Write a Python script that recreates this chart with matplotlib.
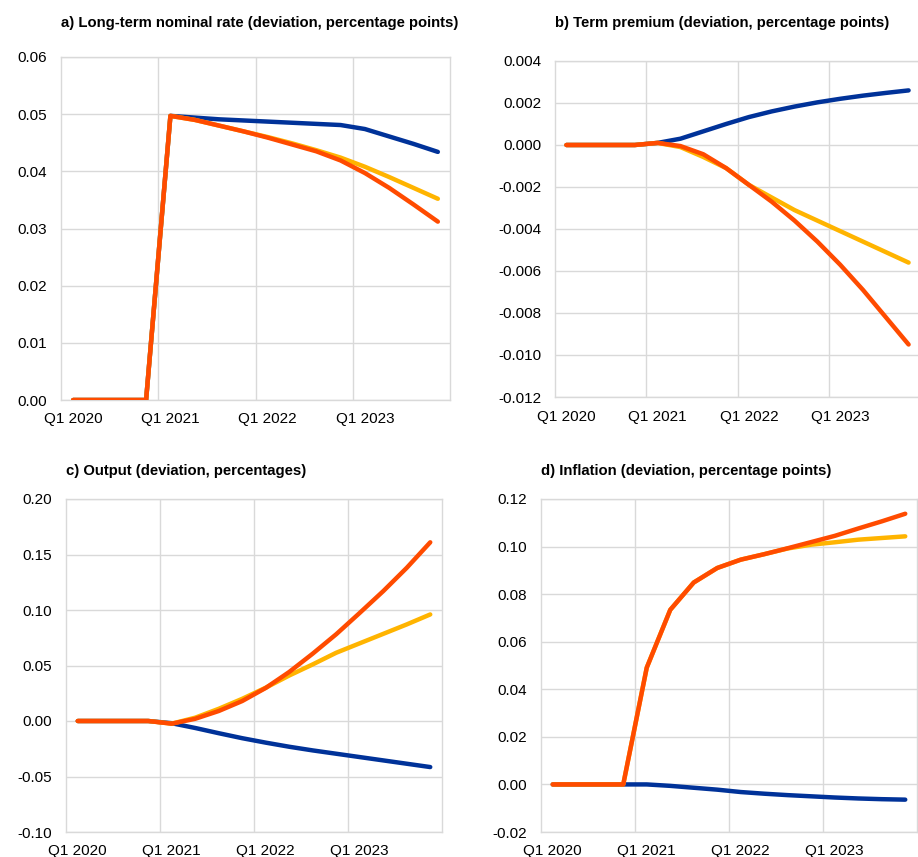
import matplotlib
matplotlib.use('Agg')
import matplotlib.pyplot as plt
from matplotlib.ticker import FixedLocator, FormatStrFormatter

plt.rcParams['font.family'] = ['Liberation Sans', 'DejaVu Sans']
plt.rcParams['axes.unicode_minus'] = False

# quarterly horizon, Q1 2020 - Q4 2023
quarters = ['Q1 2020', 'Q2 2020', 'Q3 2020', 'Q4 2020',
            'Q1 2021', 'Q2 2021', 'Q3 2021', 'Q4 2021',
            'Q1 2022', 'Q2 2022', 'Q3 2022', 'Q4 2022',
            'Q1 2023', 'Q2 2023', 'Q3 2023', 'Q4 2023']

# a) long-term nominal rate
rate_blue   = [0, 0, 0, 0, 0.0497, 0.0494, 0.0491, 0.0489, 0.0487, 0.0485, 0.0483, 0.0481, 0.0474, 0.0461, 0.0448, 0.0434]
rate_yellow = [0, 0, 0, 0, 0.0497, 0.0490, 0.0480, 0.0470, 0.0460, 0.0449, 0.0437, 0.0424, 0.0408, 0.0390, 0.0371, 0.0352]
rate_red    = [0, 0, 0, 0, 0.0497, 0.0490, 0.0480, 0.0470, 0.0459, 0.0447, 0.0435, 0.0419, 0.0397, 0.0371, 0.0342, 0.0312]

# b) term premium
term_blue   = [0, 0, 0, 0, 0.0001, 0.0003, 0.00065, 0.0010, 0.00133, 0.0016, 0.00183, 0.00203, 0.0022, 0.00235, 0.00248, 0.0026]
term_yellow = [0, 0, 0, 0, 0.0001, -0.0001, -0.00057, -0.0011, -0.0019, -0.0025, -0.0031, -0.0036, -0.0041, -0.0046, -0.0051, -0.0056]
term_red    = [0, 0, 0, 0, 0.0001, -0.00005, -0.00044, -0.0011, -0.0019, -0.0027, -0.0036, -0.0046, -0.0057, -0.0069, -0.0082, -0.0095]

# c) output
out_blue   = [0, 0, 0, 0, -0.002, -0.0063, -0.011, -0.0155, -0.0195, -0.0232, -0.0265, -0.0295, -0.0325, -0.0355, -0.0385, -0.0415]
out_yellow = [0, 0, 0, 0, -0.0024, 0.003, 0.011, 0.020, 0.030, 0.041, 0.051, 0.0615, 0.070, 0.0785, 0.087, 0.096]
out_red    = [0, 0, 0, 0, -0.0024, 0.002, 0.009, 0.018, 0.0298, 0.0442, 0.0607, 0.0782, 0.0974, 0.117, 0.138, 0.161]

# d) inflation
infl_blue   = [0, 0, 0, 0, 0.0, -0.0006, -0.0014, -0.0022, -0.0032, -0.0039, -0.0045, -0.0050, -0.0055, -0.0059, -0.0062, -0.0064]
infl_yellow = [0, 0, 0, 0, 0.0491, 0.0734, 0.0849, 0.0910, 0.0945, 0.0968, 0.0992, 0.1008, 0.1018, 0.1029, 0.1036, 0.1043]
infl_red    = [0, 0, 0, 0, 0.0491, 0.0734, 0.0849, 0.0910, 0.0945, 0.0968, 0.0993, 0.1019, 0.1045, 0.1076, 0.1106, 0.1138]

BLUE, YELLOW, RED = '#003299', '#FFB400', '#FF4B00'
GRID = '#d9d9d9'

W, H = 918, 857
fig = plt.figure(figsize=(W / 100, H / 100), dpi=100)


def panel(box, title_y, title, series, ylim, ystep, fmt):
    left, top, right, bottom = box
    ax = fig.add_axes([left / W, 1 - bottom / H, (right - left) / W, (bottom - top) / H])
    x = range(len(quarters))
    for vals, col in series:
        ax.plot(x, vals, color=col, linewidth=3.2, solid_capstyle='round', zorder=3)
    ax.set_xlim(-0.5, len(quarters) - 0.5)
    ax.set_ylim(*ylim)
    n = int(round((ylim[1] - ylim[0]) / ystep))
    ax.yaxis.set_major_locator(FixedLocator([ylim[0] + i * ystep for i in range(n + 1)]))
    ax.yaxis.set_major_formatter(FormatStrFormatter(fmt))
    ax.set_xticks(range(0, len(quarters), 4))
    ax.set_xticklabels(quarters[::4])
    ax.xaxis.set_minor_locator(FixedLocator([3.5, 7.5, 11.5]))
    ax.tick_params(which='both', length=0, labelsize=11, colors='black')
    ax.tick_params(axis='y', pad=10)
    ax.tick_params(axis='x', pad=9)
    ax.grid(axis='y', which='major', color=GRID, linewidth=1)
    ax.grid(axis='x', which='minor', color=GRID, linewidth=1)
    for s in ax.spines.values():
        s.set_color(GRID)
        s.set_linewidth(1)
    fig.text(left / W, 1 - title_y / H, title, ha='left', va='center',
             fontsize=10.7, fontweight='bold')
    return ax


panel((61, 57, 450, 400), 23, 'a) Long-term nominal rate (deviation, percentage points)',
      [(rate_blue, BLUE), (rate_yellow, YELLOW), (rate_red, RED)],
      (0, 0.06), 0.01, '%.2f')
panel((555, 61, 920, 397), 23, 'b) Term premium (deviation, percentage points)',
      [(term_blue, BLUE), (term_yellow, YELLOW), (term_red, RED)],
      (-0.012, 0.004), 0.002, '%.3f')
panel((66, 499, 442, 832), 471, 'c) Output (deviation, percentages)',
      [(out_blue, BLUE), (out_yellow, YELLOW), (out_red, RED)],
      (-0.10, 0.20), 0.05, '%.2f')
panel((541, 499, 917, 832), 471, 'd) Inflation (deviation, percentage points)',
      [(infl_blue, BLUE), (infl_yellow, YELLOW), (infl_red, RED)],
      (-0.02, 0.12), 0.02, '%.2f')

fig.savefig('out.png', dpi=100)
